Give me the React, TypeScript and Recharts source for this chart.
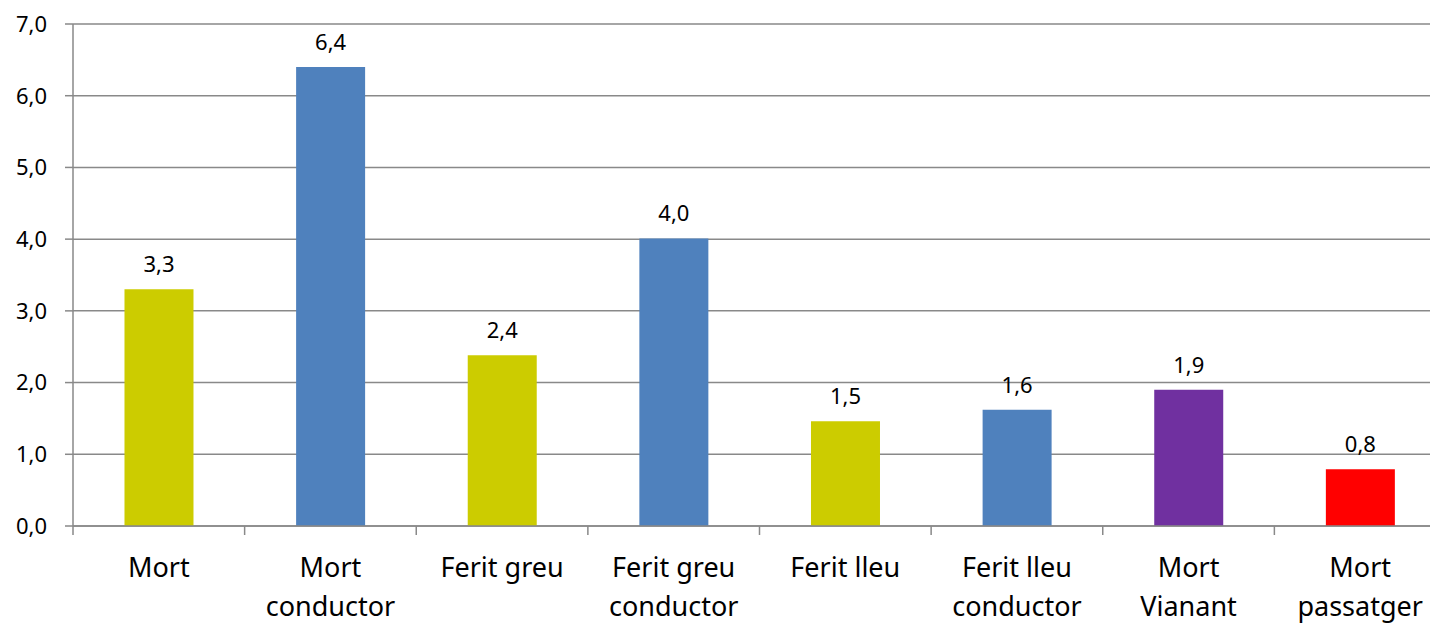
import { Bar, BarChart, CartesianGrid, Cell, LabelList, XAxis, YAxis } from "recharts";

const categories = [
  "Mort",
  "Mort conductor",
  "Ferit greu",
  "Ferit greu conductor",
  "Ferit lleu",
  "Ferit lleu conductor",
  "Mort Vianant",
  "Mort passatger",
];
const tickLines = [
  ["Mort"],
  ["Mort", "conductor"],
  ["Ferit greu"],
  ["Ferit greu", "conductor"],
  ["Ferit lleu"],
  ["Ferit lleu", "conductor"],
  ["Mort", "Vianant"],
  ["Mort", "passatger"],
];
const values = [3.3, 6.4, 2.38, 4.01, 1.46, 1.62, 1.9, 0.79];
const barColors = [
  "#CCCC00",
  "#4F81BD",
  "#CCCC00",
  "#4F81BD",
  "#CCCC00",
  "#4F81BD",
  "#7030A0",
  "#FF0000",
];
const yTicks = [0, 1, 2, 3, 4, 5, 6, 7];

const data = categories.map((name, i) => ({ name, value: values[i] }));

const comma = (v: number) => Number(v).toFixed(1).replace(".", ",");

const GRAY = "#898989";

// category labels centred in the band, tick marks on the band edges
const CategoryTick = ({ x, y, index, payload }: any) => {
  const lines = tickLines[index] ?? [];
  const half = payload?.offset ?? 0;
  const last = index === categories.length - 1;
  return (
    <g>
      <line x1={x - half} x2={x - half} y1={y} y2={y + 9} stroke={GRAY} strokeWidth={1.5} />
      {last && (
        <line x1={x + half} x2={x + half} y1={y} y2={y + 9} stroke={GRAY} strokeWidth={1.5} />
      )}
      <text x={x} y={y} textAnchor="middle" fontSize={27} fill="#000">
        {lines.map((line, i) => (
          <tspan key={i} x={x} dy={i === 0 ? 51 : 39}>
            {line}
          </tspan>
        ))}
      </text>
    </g>
  );
};

const App = () => {
  return (
    <div
      style={{
        position: "absolute",
        top: 0,
        left: 0,
        width: 1430,
        height: 623,
        overflow: "hidden",
        background: "#fff",
        fontFamily: "'Noto Sans', sans-serif",
      }}
    >
      <BarChart
        width={1460}
        height={623}
        data={data}
        margin={{ top: 24, right: 14, left: 0, bottom: 0 }}
        barCategoryGap="30%"
      >
        <CartesianGrid vertical={false} stroke={GRAY} strokeWidth={1.5} />
        <XAxis
          dataKey="name"
          height={97}
          stroke={GRAY}
          strokeWidth={1.5}
          tickLine={false}
          tickSize={0}
          tickMargin={0}
          interval={0}
          tick={<CategoryTick />}
        />
        <YAxis
          width={73}
          domain={[0, 7]}
          ticks={yTicks}
          tickFormatter={comma}
          stroke={GRAY}
          strokeWidth={1.5}
          tickSize={8}
          tickMargin={18}
          tick={{ fill: "#000", fontSize: 22 }}
        />
        <Bar dataKey="value" isAnimationActive={false}>
          {data.map((d, i) => (
            <Cell key={d.name} fill={barColors[i]} />
          ))}
          <LabelList
            dataKey="value"
            position="top"
            offset={17}
            formatter={(v: any) => comma(v)}
            fill="#000"
            fontSize={22}
          />
        </Bar>
      </BarChart>
    </div>
  );
};

export default App;
